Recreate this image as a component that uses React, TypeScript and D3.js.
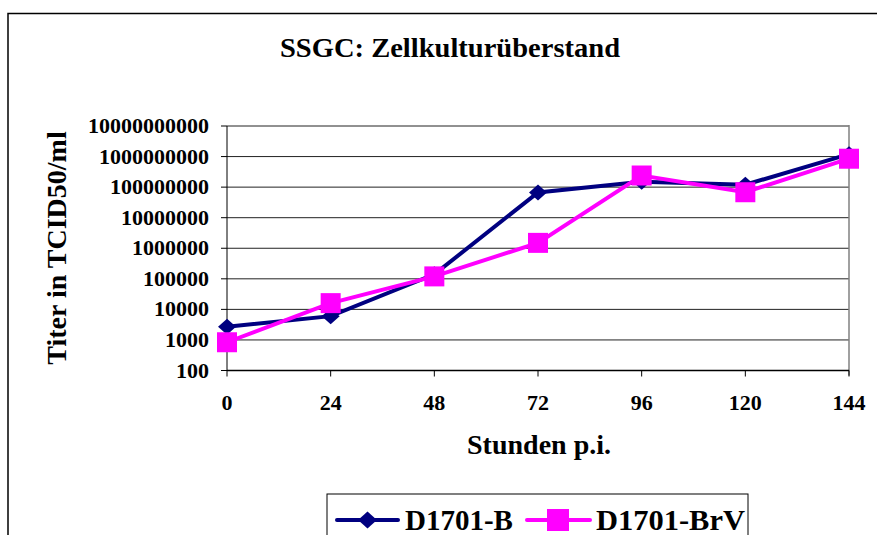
import React from "react";
import * as d3 from "d3";

const hours = [0, 24, 48, 72, 96, 120, 144];
const seriesB = [2700, 6000, 140000, 67000000, 150000000, 120000000, 1200000000];
const seriesBrV = [840, 16000, 120000, 1500000, 240000000, 68000000, 850000000];
const yTicks = [100, 1000, 10000, 100000, 1000000, 10000000, 100000000, 1000000000, 10000000000];
const seriesNames = ["D1701-B", "D1701-BrV"];
const colors = ["#000080", "#FF00FF"];

const W = 877, H = 535;
const L = 227, R = 849, T = 126, B = 370.5;

export default function App() {
  const x = d3.scaleLinear().domain([0, 144]).range([L, R]);
  const y = d3.scaleLog().domain([100, 1e10]).range([B, T]);
  const line = d3.line<[number, number]>().x(d => x(d[0])).y(d => y(d[1]));
  const dataB = hours.map((h, i) => [h, seriesB[i]] as [number, number]);
  const dataV = hours.map((h, i) => [h, seriesBrV[i]] as [number, number]);
  const font = "'Liberation Serif', 'Times New Roman', serif";
  const diamond = (cx: number, cy: number, s = 1) =>
    `M${cx},${cy - 8 * s}L${cx + 9 * s},${cy}L${cx},${cy + 8 * s}L${cx - 9 * s},${cy}Z`;
  return (
    <svg width={W} height={H} style={{ position: "absolute", left: 0, top: 0 }} fontFamily={font}>
      <rect x={0} y={0} width={W} height={H} fill="#fff" />
      <rect x={8} y={13.5} width={900} height={600} fill="none" stroke="#000" strokeWidth={1.5} />
      <text x={450} y={57} textAnchor="middle" fontWeight="bold" fontSize={28} textLength={340} lengthAdjust="spacingAndGlyphs">SSGC: Zellkulturüberstand</text>
      {yTicks.map(t => (
        <g key={t}>
          <line x1={L} x2={R} y1={y(t)} y2={y(t)} stroke="#222" strokeWidth={1} />
          <line x1={L - 6} x2={L} y1={y(t)} y2={y(t)} stroke="#000" strokeWidth={1} />
          <text x={209} y={y(t) + 7} textAnchor="end" fontWeight="bold" fontSize={22}>{String(t)}</text>
        </g>
      ))}
      <line x1={R} x2={R} y1={T - 1} y2={B + 5} stroke="#808080" strokeWidth={1.5} />
      <line x1={L} x2={L} y1={T} y2={B} stroke="#000" strokeWidth={1} />
      <line x1={L} x2={R} y1={B} y2={B} stroke="#000" strokeWidth={1.5} />
      {hours.map(h => (
        <g key={h}>
          <line x1={x(h)} x2={x(h)} y1={B} y2={B + 6} stroke="#000" strokeWidth={1} />
          <text x={x(h)} y={410} textAnchor="middle" fontWeight="bold" fontSize={22}>{h}</text>
        </g>
      ))}
      <text x={539} y={454} textAnchor="middle" fontWeight="bold" fontSize={28}>Stunden p.i.</text>
      <text transform={`translate(66,248) rotate(-90)`} textAnchor="middle" fontWeight="bold" fontSize={28}>Titer in TCID50/ml</text>
      <path d={line(dataB) || ""} fill="none" stroke={colors[0]} strokeWidth={4} />
      {dataB.map((d, i) => <path key={i} d={diamond(x(d[0]), y(d[1]))} fill={colors[0]} />)}
      <path d={line(dataV) || ""} fill="none" stroke={colors[1]} strokeWidth={4} />
      {dataV.map((d, i) => <rect key={i} x={x(d[0]) - 10} y={y(d[1]) - 10} width={20} height={20} fill={colors[1]} />)}
      <rect x={327} y={494} width={421} height={60} fill="#fff" stroke="#000" strokeWidth={1} />
      <line x1={337} x2={398} y1={520} y2={520} stroke={colors[0]} strokeWidth={4} strokeLinecap="round" />
      <path d={diamond(367.5, 520, 1.05)} fill={colors[0]} />
      <text x={405} y={530} fontWeight="bold" fontSize={29}>{seriesNames[0]}</text>
      <line x1={527} x2={590} y1={520} y2={520} stroke={colors[1]} strokeWidth={4} strokeLinecap="round" />
      <rect x={547} y={509} width={22} height={22} fill={colors[1]} />
      <text x={596} y={530} fontWeight="bold" fontSize={29} textLength={149} lengthAdjust="spacingAndGlyphs">{seriesNames[1]}</text>
    </svg>
  );
}
